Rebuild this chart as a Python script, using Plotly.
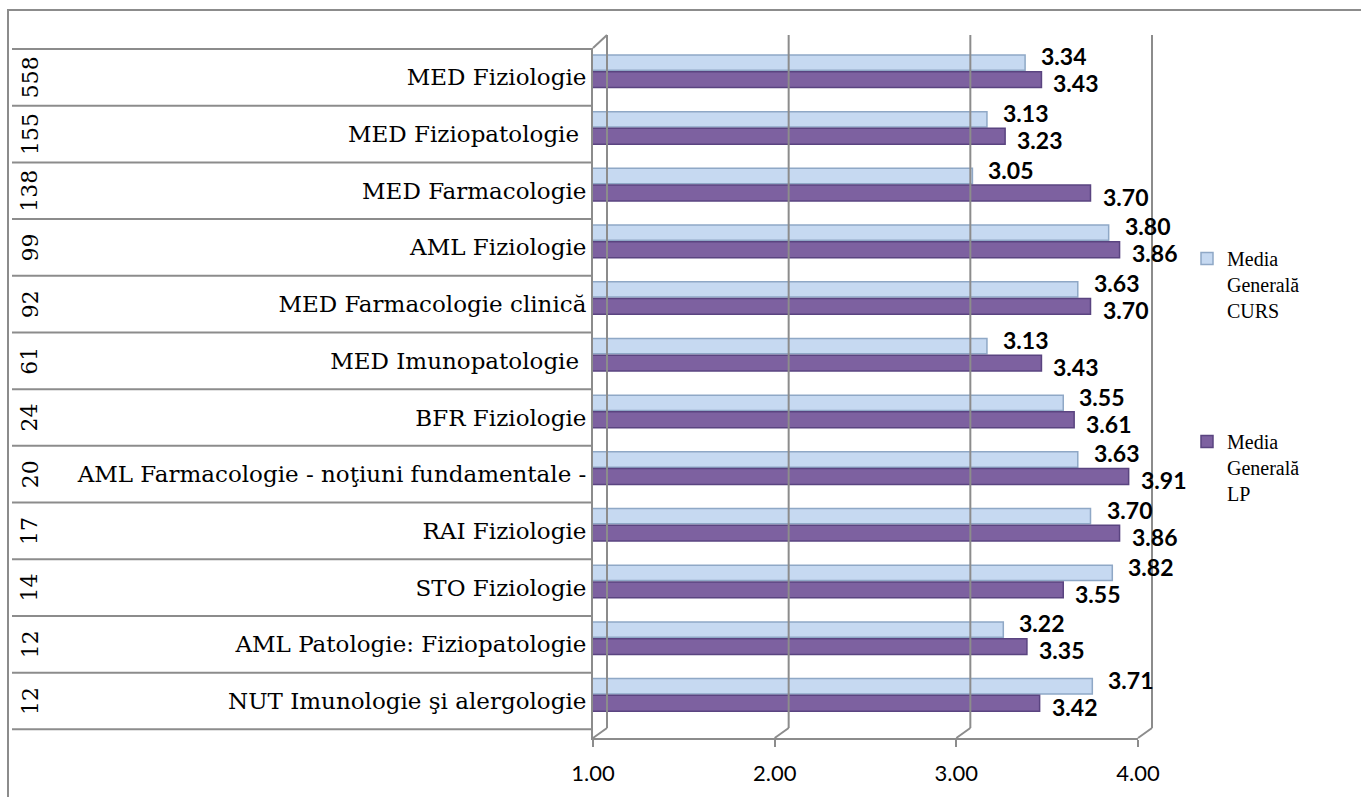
import plotly.graph_objects as go

categories = [
    "MED Fiziologie",
    "MED Fiziopatologie\u00a0",
    "MED Farmacologie",
    "AML Fiziologie",
    "MED Farmacologie clinică",
    "MED Imunopatologie\u00a0",
    "BFR Fiziologie",
    "AML Farmacologie - noţiuni fundamentale -",
    "RAI Fiziologie",
    "STO Fiziologie",
    "AML Patologie: Fiziopatologie",
    "NUT Imunologie şi alergologie",
]
counts = ["558", "155", "138", "99", "92", "61", "24", "20", "17", "14", "12", "12"]
curs = [3.34, 3.13, 3.05, 3.80, 3.63, 3.13, 3.55, 3.63, 3.70, 3.82, 3.22, 3.71]
lp = [3.43, 3.23, 3.70, 3.86, 3.70, 3.43, 3.61, 3.91, 3.86, 3.55, 3.35, 3.42]
x_ticks = [1, 2, 3, 4]
x_tick_labels = ["1.00", "2.00", "3.00", "4.00"]
series_names = ["Media<br>Generală<br>CURS", "Media<br>Generală<br>LP"]

W, H = 1361, 797
ML, MR, MT, MB = 593, 223, 48, 59
PW, PH = W - ML - MR, H - MT - MB
XMIN, XMAX = 1, 4
DX, DY = 14, 10          # 3-D depth offset of the back wall (pixels)
MID = 7                  # bars drawn at mid depth (pixels)
shift = MID * (XMAX - XMIN) / PW


def px_x(p):
    return (p - ML) / PW


def px_y(p):
    return (H - MB - p) / PH


def val_px(v):
    return ML + (v - XMIN) / (XMAX - XMIN) * PW


GRID = "#8c8c8c"
SERIF = "DejaVu Serif"

fig = go.Figure()
# empty trace so that the front (visible) value axis is drawn
fig.add_trace(go.Scatter(x=[], y=[], xaxis="x", yaxis="y", showlegend=False,
                         hoverinfo="skip", mode="markers"))
fig.add_trace(go.Bar(
    y=categories, x=curs, orientation="h", xaxis="x2",
    name=series_names[0], legendgroup="a",
    marker=dict(color="#c6d9f1", line=dict(color="#8fa8c6", width=1.5)),
    width=0.27, offset=-0.395, hoverinfo="x+y",
))
fig.add_trace(go.Bar(
    y=categories, x=lp, orientation="h", xaxis="x2",
    name=series_names[1], legendgroup="b",
    marker=dict(color="#7d61a0", line=dict(color="#5a4480", width=1.5)),
    width=0.28, offset=-0.1, hoverinfo="x+y",
))

ann = []
for i, c in enumerate(categories):
    ann.append(dict(x=curs[i], y=c, xref="x2", yref="y", text=f"{curs[i]:.2f}",
                    showarrow=False, xanchor="left", yanchor="middle", xshift=14, yshift=21,
                    font=dict(family="Lato", size=23, color="black", weight="bold")))
    ann.append(dict(x=lp[i], y=c, xref="x2", yref="y", text=f"{lp[i]:.2f}",
                    showarrow=False, xanchor="left", yanchor="middle", xshift=10, yshift=-6,
                    font=dict(family="Lato", size=23, color="black", weight="bold")))
    ann.append(dict(x=px_x(30), y=c, xref="paper", yref="y", text=counts[i],
                    showarrow=False, textangle=-90, xanchor="center", yanchor="middle",
                    font=dict(family=SERIF, size=22, color="black")))

shapes = []
n = len(categories)
line_style = dict(color=GRID, width=2)
for k in range(n + 1):
    shapes.append(dict(type="line", xref="paper", yref="y", x0=px_x(12), x1=0,
                       y0=k - 0.5, y1=k - 0.5, line=line_style))
bottom, top = H - MB, MT
for v in x_ticks:
    xp = val_px(v)
    # back-wall gridline
    shapes.append(dict(type="line", xref="paper", yref="paper",
                       x0=px_x(xp + DX), x1=px_x(xp + DX),
                       y0=px_y(bottom - DY), y1=px_y(top - DY - 3), line=line_style))
    # floor diagonal
    shapes.append(dict(type="line", xref="paper", yref="paper",
                       x0=px_x(xp), x1=px_x(xp + DX),
                       y0=px_y(bottom), y1=px_y(bottom - DY), line=line_style))
# top-left wall diagonal
shapes.append(dict(type="line", xref="paper", yref="paper",
                   x0=px_x(ML), x1=px_x(ML + DX), y0=px_y(top), y1=px_y(top - DY - 3),
                   line=line_style))
# outer chart border
shapes.append(dict(type="rect", xref="paper", yref="paper", x0=px_x(8), x1=px_x(1375),
                   y0=px_y(810), y1=px_y(10), line=line_style))

fig.update_layout(
    width=W, height=H,
    margin=dict(l=ML, r=MR, t=MT, b=MB, pad=0),
    paper_bgcolor="white", plot_bgcolor="white",
    barmode="overlay",
    showlegend=True,
    legend=dict(x=px_x(1187), y=px_y(239), xanchor="left", yanchor="top",
                font=dict(family="Liberation Serif", size=20, color="black"),
                traceorder="grouped", tracegroupgap=102, valign="top",
                bgcolor="rgba(0,0,0,0)"),
    xaxis=dict(range=[XMIN, XMAX], tickvals=x_ticks, ticktext=x_tick_labels,
               showgrid=False,
               showline=True, linecolor=GRID, linewidth=2,
               ticks="outside", ticklen=7, tickcolor=GRID, tickwidth=2,
               tickfont=dict(family="Lato", size=22, color="black"),
               zeroline=False, ticklabelstandoff=8),
    xaxis2=dict(range=[XMIN - shift, XMAX - shift], overlaying="x", visible=False),
    yaxis=dict(categoryorder="array", categoryarray=categories, autorange="reversed",
               showgrid=False, showline=True, linecolor=GRID, linewidth=2,
               ticks="", tickfont=dict(family=SERIF, size=23, color="black"),
               ticklabelstandoff=0),
    annotations=ann,
    shapes=shapes,
)

fig.write_html("out.html", config={"displayModeBar": False},
               post_script="document.body.style.margin='0px';")
